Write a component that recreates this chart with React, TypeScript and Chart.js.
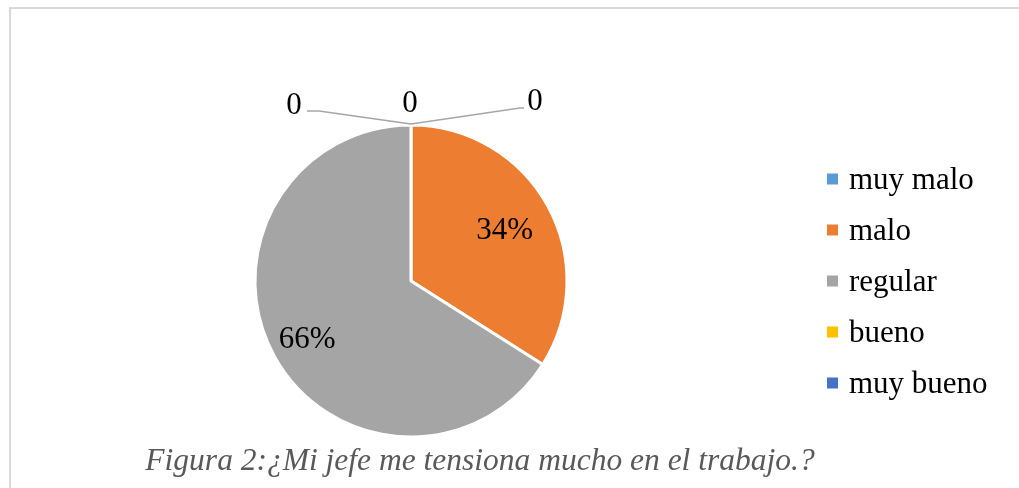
import React, { useEffect, useRef } from "react";
import { Chart, registerables } from "chart.js";

Chart.register(...registerables);

const categories = ["muy malo", "malo", "regular", "bueno", "muy bueno"];
const values = [0, 34, 66, 0, 0];
const colors = ["#5B9BD5", "#ED7D31", "#A5A5A5", "#FFC000", "#4472C4"];
const caption = "Figura 2:¿Mi jefe me tensiona mucho en el trabajo.?";

const FONT = '"Liberation Serif", "Times New Roman", serif';

const decorPlugin = {
  id: "decor",
  beforeDraw(chart: any) {
    const ctx = chart.ctx;
    ctx.save();
    ctx.fillStyle = "#ffffff";
    ctx.fillRect(0, 0, chart.width, chart.height);
    ctx.fillStyle = "#d9d9d9";
    ctx.fillRect(9, 7, 2, chart.height - 7);
    ctx.fillRect(9, 7, chart.width - 9, 2);
    ctx.restore();
  },
  afterDraw(chart: any) {
    const ctx = chart.ctx;
    const meta = chart.getDatasetMeta(0);
    const data = chart.data.datasets[0].data as number[];
    const total = data.reduce((a: number, b: number) => a + b, 0);
    ctx.save();
    ctx.font = `31px ${FONT}`;
    ctx.fillStyle = "#000000";
    ctx.textAlign = "center";
    ctx.textBaseline = "middle";

    // non-zero labels inside slices
    const zeroIdx: number[] = [];
    meta.data.forEach((arc: any, i: number) => {
      const v = data[i];
      if (v === 0) {
        zeroIdx.push(i);
        return;
      }
      const p = arc.getProps(["x", "y", "startAngle", "endAngle", "outerRadius"], true);
      const mid = (p.startAngle + p.endAngle) / 2;
      const small = v / total < 0.5;
      const f = small ? 0.685 : 0.76;
      const lx = p.x + Math.cos(mid) * p.outerRadius * f;
      const ly = p.y + Math.sin(mid) * p.outerRadius * f + (small ? 1 : 2);
      ctx.fillText(Math.round((v / total) * 100) + "%", lx, ly);
    });

    // zero labels spread above the top of the pie
    if (zeroIdx.length) {
      const first = meta.data[zeroIdx[0]].getProps(["x", "y", "startAngle", "outerRadius"], true);
      const ax = first.x + Math.cos(first.startAngle) * first.outerRadius;
      const ay = first.y + Math.sin(first.startAngle) * first.outerRadius - 1;
      const spots = [
        { dx: -117, dy: -18, line: [[-92, -13], [-104, -13]] },
        { dx: -1, dy: -20, line: null },
        { dx: 124, dy: -22, line: [[109, -16], [113, -16]] },
      ];
      zeroIdx.forEach((idx, k) => {
        const s = spots[k % spots.length];
        ctx.fillStyle = "#000000";
        ctx.fillText(String(data[idx]), ax + s.dx, ay + s.dy);
        if (s.line) {
          ctx.strokeStyle = "#a6a6a6";
          ctx.lineWidth = 1.5;
          ctx.beginPath();
          ctx.moveTo(ax, ay);
          s.line.forEach((pt) => ctx.lineTo(ax + pt[0], ay + pt[1]));
          ctx.stroke();
        }
      });
    }

    // legend
    const labels = chart.data.labels as string[];
    const bg = chart.data.datasets[0].backgroundColor as string[];
    ctx.textAlign = "left";
    ctx.textBaseline = "alphabetic";
    labels.forEach((lab, i) => {
      const cy = 179 + i * 51;
      ctx.fillStyle = bg[i];
      ctx.fillRect(827, cy - 5.5, 11, 11);
      ctx.fillStyle = "#000000";
      ctx.fillText(lab, 849, cy + 10);
    });

    // caption
    ctx.font = `italic 31.5px ${FONT}`;
    ctx.fillStyle = "#595959";
    ctx.textAlign = "center";
    ctx.fillText(caption, 480, 470);
    ctx.restore();
  },
};

export default function App() {
  const ref = useRef<HTMLCanvasElement | null>(null);
  useEffect(() => {
    document.body.style.margin = "0";
    if (!ref.current) return;
    const chart = new Chart(ref.current, {
      type: "pie",
      data: {
        labels: categories,
        datasets: [
          {
            data: values,
            backgroundColor: colors,
            borderColor: "#ffffff",
            borderWidth: 3,
          },
        ],
      },
      options: {
        responsive: false,
        animation: false,
        radius: 156,
        layout: { padding: { left: 100, right: 297, top: 120, bottom: 46 } },
        plugins: {
          legend: { display: false },
          tooltip: { enabled: false },
          title: { display: false },
        },
      } as any,
      plugins: [decorPlugin],
    });
    return () => chart.destroy();
  }, []);
  return (
    <div style={{ position: "absolute", left: 0, top: 0, width: 1019, height: 488 }}>
      <canvas ref={ref} width={1019} height={488} />
    </div>
  );
}
